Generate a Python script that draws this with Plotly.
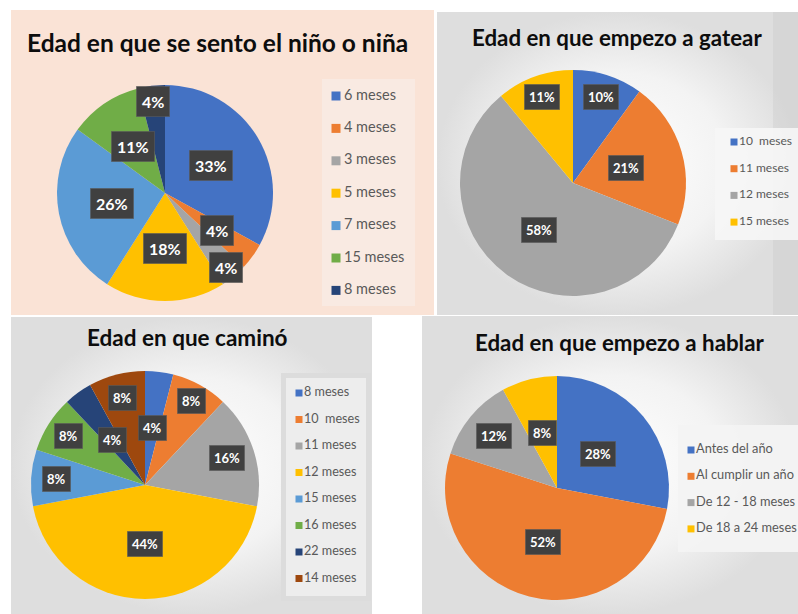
import math
import plotly.graph_objects as go

W, H = 798, 614

# ---------------- data ----------------
sento_labels = ["6 meses", "4 meses", "3 meses", "5 meses", "7 meses", "15 meses", "8 meses"]
sento_values = [33, 4, 4, 18, 26, 11, 4]

gatear_labels = ["10\u00a0 meses", "11 meses", "12 meses", "15 meses"]
gatear_values = [10, 21, 58, 11]

camino_labels = ["8 meses", "10\u00a0 meses", "11 meses", "12 meses", "15 meses",
                 "16 meses", "22 meses", "14 meses"]
camino_values = [4, 8, 16, 44, 8, 8, 4, 8]

hablar_labels = ["Antes del año", "Al cumplir un año", "De 12 - 18 meses", "De 18 a 24 meses"]
hablar_values = [28, 52, 12, 8]

titles = ["Edad en que se sento el niño o niña", "Edad en que empezo a gatear",
          "Edad en que caminó", "Edad en que empezo a hablar"]

# ---------------- styles ----------------
BLUE, ORANGE, GRAY, GOLD = "#4472C4", "#ED7D31", "#A5A5A5", "#FFC000"
LBLUE, GREEN, DBLUE, BROWN = "#5B9BD5", "#70AD47", "#264478", "#9E480E"

FONT = "Lato, 'Open Sans', sans-serif"

panels = [
    dict(labels=sento_labels, values=sento_values, title=titles[0],
         colors=[BLUE, ORANGE, GRAY, GOLD, LBLUE, GREEN, DBLUE],
         cx=165, cy=193, r=108, tx=217, ty=42, tsize=24.5,
         label_r=[0.50, 0.59, 0.89, 0.51, 0.50, 0.52, 0.85], lsize=16, lpad=5,
         leg_x=336, leg_y=96, leg_step=32.4, leg_font=14.5, leg_sym=9, leg_gap=8),
    dict(labels=gatear_labels, values=gatear_values, title=titles[1],
         colors=[BLUE, ORANGE, GRAY, GOLD],
         cx=573, cy=183, r=113, tx=617, ty=37, tsize=22.3,
         label_r=[0.80, 0.49, 0.51, 0.81], lsize=13, lpad=4,
         leg_x=734, leg_y=142, leg_step=26.7, leg_font=12, leg_sym=7, leg_gap=5),
    dict(labels=camino_labels, values=camino_values, title=titles[2],
         colors=[BLUE, ORANGE, GRAY, GOLD, LBLUE, GREEN, DBLUE, BROWN],
         cx=145, cy=485, r=114, tx=187, ty=337, tsize=22.5,
         label_r=[0.50, 0.84, 0.76, 0.52, 0.78, 0.80, 0.49, 0.79], lsize=13, lpad=4,
         leg_x=299, leg_y=393, leg_step=26.5, leg_font=12.6, leg_sym=7, leg_gap=5),
    dict(labels=hablar_labels, values=hablar_values, title=titles[3],
         colors=[BLUE, ORANGE, GRAY, GOLD],
         cx=557, cy=488, r=112, tx=619, ty=342, tsize=22.3,
         label_r=[0.48, 0.50, 0.73, 0.51], lsize=13, lpad=4,
         leg_x=691, leg_y=450, leg_step=26.3, leg_font=12.8, leg_sym=7, leg_gap=5),
]

GRAD = [[0, "#FFFFFF"], [0.6, "#F3F3F3"], [1, "#DEDEDE"]]

fig = go.Figure()


def rect(x0, y0, x1, y1, color=None, gradient=None):
    tr = go.Scatter(x=[x0, x1, x1, x0, x0], y=[y0, y0, y1, y1, y0], mode="lines",
                    line=dict(width=0, color="rgba(0,0,0,0)"), fill="toself",
                    hoverinfo="skip", showlegend=False)
    if gradient is not None:
        tr.fillgradient = dict(type="radial", colorscale=gradient)
    else:
        tr.fillcolor = color
    fig.add_trace(tr)


# panel backgrounds
rect(11, 10, 434, 315, color="#FAE3D6")
rect(437, 12, 798, 315, gradient=GRAD)
rect(773, 12, 798, 315, color="rgba(200,200,200,0.35)")
rect(11, 317, 372, 614, gradient=GRAD)
rect(422, 316, 798, 614, gradient=GRAD)

# legend boxes
rect(322, 79, 415, 306, color="#F9EAE2")
rect(715, 128, 798, 240, color="rgba(246,246,246,0.9)")
rect(281, 373, 371, 601, color="#DCDCDC")
rect(286, 378, 366, 596, color="#EDEDED")
rect(678, 425, 798, 552, color="rgba(243,243,243,0.95)")

annotations = []

for p in panels:
    vals = p["values"]
    total = float(sum(vals))
    # pie
    fig.add_trace(go.Pie(
        labels=p["labels"], values=vals, sort=False, direction="clockwise", rotation=0,
        marker=dict(colors=p["colors"], line=dict(width=0)),
        textinfo="none", showlegend=False, hoverinfo="label+percent",
        domain=dict(x=[(p["cx"] - p["r"]) / W, (p["cx"] + p["r"]) / W],
                    y=[1 - (p["cy"] + p["r"]) / H, 1 - (p["cy"] - p["r"]) / H]),
    ))
    # data labels (dark boxes), positions derived from the values
    cum = 0.0
    for v, fr in zip(vals, p["label_r"]):
        mid = (cum + v / 2.0) / total * 2 * math.pi
        cum += v
        lx = p["cx"] + fr * p["r"] * math.sin(mid)
        ly = p["cy"] - fr * p["r"] * math.cos(mid)
        txt = f"{round(v / total * 100)}%"
        annotations.append(dict(x=lx, y=ly, xref="x", yref="y", text=txt, showarrow=False,
                                bgcolor="#404040", borderpad=p["lpad"],
                                bordercolor="rgba(90,90,90,0.6)", borderwidth=1,
                                font=dict(family=FONT, size=p["lsize"], color="white",
                                          weight="bold")))
    # title
    annotations.append(dict(x=p["tx"], y=p["ty"], xref="x", yref="y", text=p["title"],
                            showarrow=False,
                            font=dict(family=FONT, size=p["tsize"], color="#0D0D0D",
                                      weight="bold")))
    # legend (one entry per category)
    n = len(p["labels"])
    ys = [p["leg_y"] + i * p["leg_step"] for i in range(n)]
    fig.add_trace(go.Scatter(
        x=[p["leg_x"]] * n, y=ys, mode="markers", hoverinfo="skip", showlegend=False,
        marker=dict(symbol="square", size=p["leg_sym"], color=p["colors"], line=dict(width=0)),
    ))
    fig.add_trace(go.Scatter(
        x=[p["leg_x"] + p["leg_gap"]] * n, y=ys, mode="text", text=p["labels"],
        textposition="middle right", hoverinfo="skip", showlegend=False,
        textfont=dict(family=FONT, size=p["leg_font"], color="#595959"),
    ))

fig.update_layout(
    width=W, height=H, margin=dict(l=0, r=0, t=0, b=0),
    paper_bgcolor="white", plot_bgcolor="white",
    xaxis=dict(range=[0, W], visible=False, fixedrange=True),
    yaxis=dict(range=[H, 0], visible=False, fixedrange=True),
    annotations=annotations, showlegend=False,
)

fig.write_html("out.html", config={"displayModeBar": False},
               post_script="document.body.style.margin='0';document.body.style.padding='0';"
                           "document.body.style.overflow='hidden';")
